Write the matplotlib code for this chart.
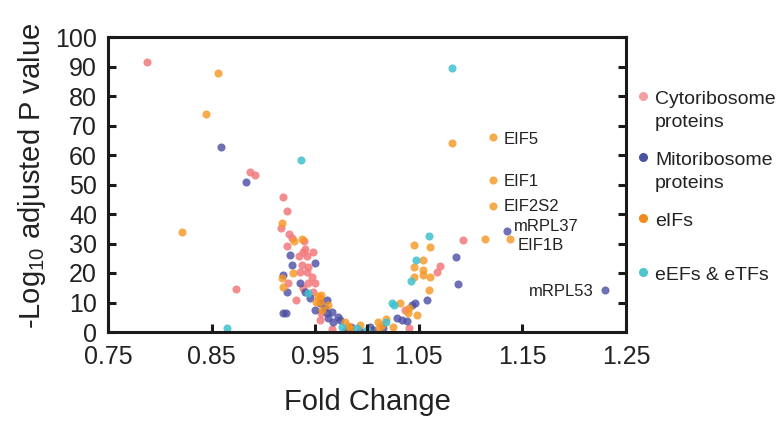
import numpy as np
import matplotlib
matplotlib.use('Agg')
import matplotlib.pyplot as plt

plt.rcParams['font.family'] = ['Liberation Sans', 'DejaVu Sans']
plt.rcParams['mathtext.fontset'] = 'custom'
plt.rcParams['mathtext.rm'] = 'Liberation Sans'
plt.rcParams['mathtext.default'] = 'regular'

# fold change / -log10 adjusted p
cyto_x = [0.788, 0.887, 0.892, 0.874, 0.919, 0.923, 0.917, 0.925, 0.928, 0.939,
          0.923, 0.940, 0.948, 0.934, 0.938, 0.937, 0.942, 0.924, 0.947, 0.950,
          0.938, 0.955, 0.966, 0.931, 0.956, 0.979, 0.942, 0.943, 0.935, 0.943,
          0.948, 0.955,
          1.093, 1.070, 1.068, 1.037, 1.041]
cyto_y = [91.5, 54.2, 53.2, 14.6, 45.8, 41.0, 35.3, 33.2, 31.9, 30.9,
          29.2, 28.1, 27.1, 25.8, 27.1, 22.7, 20.3, 16.6, 18.6, 16.6,
          14.9, 4.1, 1.0, 10.8, 6.4, 0.3, 25.8, 22.0, 20.3, 16.6,
          13.6, 11.5,
          31.2, 22.4, 20.3, 7.5, 1.4]

mito_x = [0.859, 0.883, 0.926, 0.928, 0.950, 0.919, 0.935, 0.923, 0.940, 0.961,
          0.950, 0.919, 0.922, 0.961, 0.966, 0.972, 0.967, 0.981, 0.955, 0.945,
          0.959, 0.993, 0.962, 0.974, 0.985,
          1.086, 1.088, 1.135, 1.230, 1.058, 1.046, 1.043, 1.029, 1.034, 1.039,
          1.015, 1.003, 1.006]
mito_y = [62.7, 50.8, 26.1, 22.7, 23.4, 19.3, 16.6, 13.6, 13.6, 10.8,
          7.5, 6.4, 6.4, 6.4, 6.8, 5.1, 3.4, 0.7, 9.8, 11.5,
          8.1, 0.3, 4.7, 4.1, 1.7,
          25.4, 16.3, 34.2, 14.2, 10.8, 9.8, 9.2, 4.7, 4.1, 3.7,
          1.4, 1.7, 0.8]

eif_x = [0.856, 0.845, 0.821, 0.918, 0.930, 0.937, 0.929, 0.918, 0.919, 0.956,
         0.955, 0.957, 0.953, 0.984, 0.993, 0.951, 0.962, 0.979, 0.982,
         1.082, 1.122, 1.122, 1.122, 1.138, 1.114, 1.045, 1.061, 1.054, 1.045,
         1.054, 1.054, 1.061, 1.045, 1.060, 1.032, 1.041, 1.040, 1.018, 1.011,
         1.014, 1.025, 1.012, 1.048]
eif_y = [87.8, 73.9, 33.9, 37.0, 30.9, 31.5, 20.0, 18.3, 15.3, 12.5,
         10.2, 7.5, 12.2, 1.4, 2.4, 10.2, 9.2, 3.4, 2.0,
         64.1, 66.1, 51.5, 42.7, 31.5, 31.5, 29.5, 28.8, 24.4, 22.0,
         21.0, 19.3, 18.6, 18.6, 14.2, 9.8, 8.1, 6.4, 4.4, 3.4,
         2.4, 1.7, 1.4, 5.8]

eef_x = [0.865, 0.936, 0.943, 0.976, 0.990, 1.000,
         1.082, 1.060, 1.047, 1.042, 1.024, 1.026, 1.018]
eef_y = [1.4, 58.3, 13.2, 1.7, 1.4, 0.7,
         89.5, 32.5, 24.4, 17.3, 9.8, 9.2, 3.4]

labels = ['EIF5', 'EIF1', 'EIF2S2', 'mRPL37', 'EIF1B', 'mRPL53']
label_x = [1.122, 1.122, 1.122, 1.135, 1.138, 1.230]
label_y = [66.1, 51.5, 42.7, 34.2, 31.5, 14.2]

fig = plt.figure(figsize=(7.79, 4.22), dpi=100)
ax = fig.add_axes([108/779, 1-332/422, 518/779, 295/422])

ax.scatter(cyto_x, cyto_y, s=34, color='#F3797D', alpha=0.85, linewidths=0)
ax.scatter(mito_x, mito_y, s=34, color='#4A4EA3', alpha=0.8, linewidths=0)
ax.scatter(eif_x, eif_y, s=34, color='#F7961F', alpha=0.8, linewidths=0)
ax.scatter(eef_x, eef_y, s=34, color='#3FC1CF', alpha=0.85, linewidths=0)

offs = [(10, -7, 'left'), (10, -6, 'left'), (10, -5, 'left'),
        (7, 0, 'left'), (8, -11, 'left'), (-12, -6, 'right')]
for lab, lx, ly, (dx, dy, ha) in zip(labels, label_x, label_y, offs):
    ax.annotate(lab, xy=(lx, ly), xytext=(dx, dy), textcoords='offset pixels',
                ha=ha, va='baseline', fontsize=12, color='#222222')

ax.set_xlim(0.75, 1.25)
ax.set_ylim(0, 100)
ax.set_xticks([0.75, 0.85, 0.95, 1, 1.05, 1.15, 1.25])
ax.set_xticklabels(['0.75', '0.85', '0.95', '1', '1.05', '1.15', '1.25'])
ax.set_yticks(np.arange(0, 101, 10))
for sp in ax.spines.values():
    sp.set_linewidth(2.2)
    sp.set_color('#1a1a1a')
ax.tick_params(axis='both', direction='in', length=6, width=2.2, labelsize=18,
               color='#1a1a1a', labelcolor='#222222')
ax.tick_params(axis='y', right=True, pad=8)
ax.tick_params(axis='x', pad=9)

ax.set_xlabel('Fold Change', fontsize=21, color='#222222', va='center')
ax.xaxis.set_label_coords(0.5, -0.237)
ax.set_ylabel(r'-Log$_{10}$ adjusted P value', fontsize=21, color='#222222', va='center')
ax.yaxis.set_label_coords(-0.147, 0.53)

# legend drawn by hand, outside the axes
leg_cols = ['#F4A0A3', '#4A52A3', '#F08A1A', '#4DC4CF']
leg_marker_y = [96, 157, 218, 272]
for c, yy in zip(leg_cols, leg_marker_y):
    fig.add_artist(plt.Line2D([643/779], [1-yy/422], marker='o', markersize=5.5,
                              color=c, linestyle='none', transform=fig.transFigure))
leg_lines = ['Cytoribosome', 'proteins', 'Mitoribosome', 'proteins', 'eIFs', 'eEFs & eTFs']
leg_base = [104, 127, 165, 188, 226, 280]
for t, yy in zip(leg_lines, leg_base):
    fig.text(655/779, 1-yy/422, t, fontsize=14, va='baseline', color='#222222')

fig.savefig('out.png', dpi=100)
